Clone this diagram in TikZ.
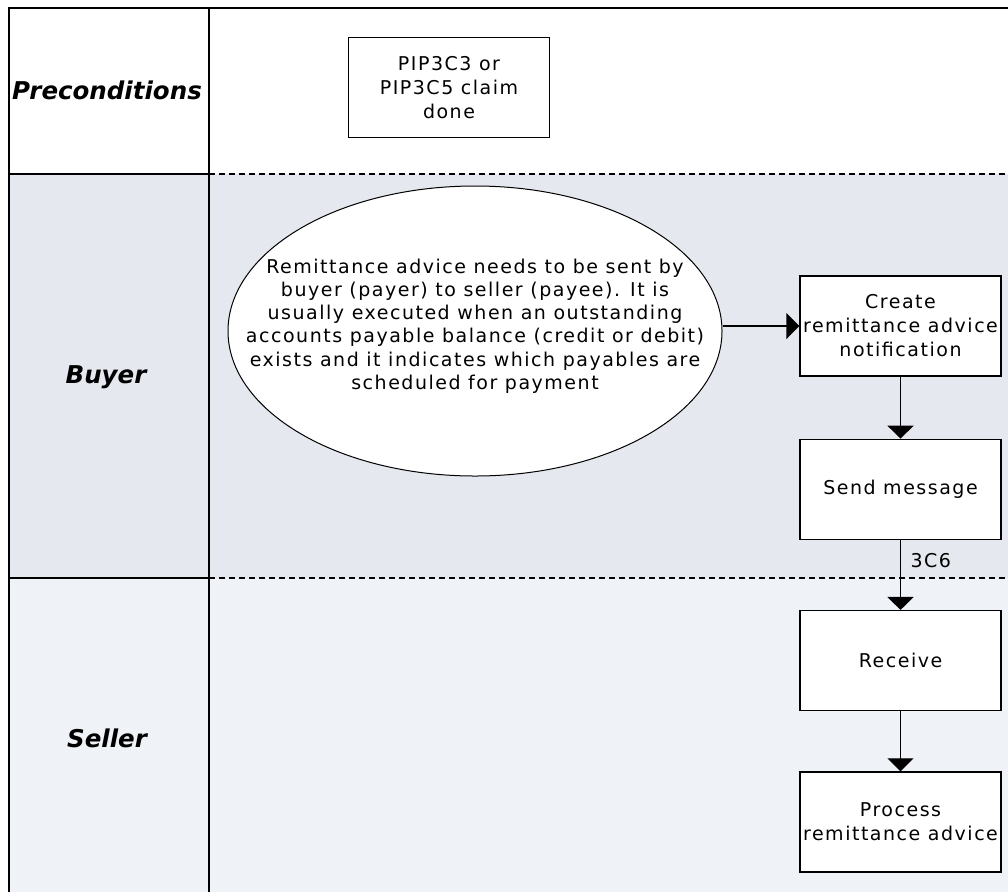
\documentclass[tikz,border=0pt]{standalone}
\usepackage{fontspec}
\setmainfont{DejaVu Sans}
\newfontfamily\boxfont[LetterSpace=8]{DejaVu Sans}
\usetikzlibrary{arrows.meta,positioning,shapes.geometric}
\definecolor{buyerbg}{RGB}{229,232,239}
\definecolor{sellerbg}{RGB}{239,243,247}

\begin{document}
\begin{tikzpicture}[
  x=1pt, y=-1pt,
  act/.style={draw, line width=1.3pt, fill=white, minimum width=201pt, minimum height=100pt, inner sep=1pt, align=center, font=\boxfont\fontsize{19}{24}\selectfont},
  lanelabel/.style={font=\bfseries\itshape\fontsize{24.5}{28}\selectfont},
  frame/.style={line width=1.4pt},
  lanesep/.style={line width=1.3pt, dash pattern=on 6pt off 4pt},
  >={Triangle[width=26pt,length=13pt]}
]
\useasboundingbox (0,0) rectangle (1008,892);
% lanes
\fill[buyerbg] (9,174) rectangle (1008,578);
\fill[sellerbg] (9,578) rectangle (1008,892);
\draw[frame] (1008,8) -- (9,8) -- (9,892);
\draw[frame] (209,8) -- (209,892);
\foreach \y in {174,578} {
  \draw[frame] (9,\y) -- (209,\y);
  \draw[lanesep] (209,\y) -- (1008,\y);
}
\node[lanelabel] (pre) at (107,90) {Preconditions};
\node[lanelabel] (buyer) at (106,377) {Buyer};
\node[lanelabel] (seller) at (107,738) {Seller};

% activities
\node[act] (claim) at (449,87.5) {PIP3C3 or\\PIP3C5 claim\\done};
\node[ellipse, draw, line width=1pt, fill=white, minimum width=494pt, minimum height=290pt,
  label={[yshift=5pt, align=center, font=\boxfont\fontsize{19}{23.3}\selectfont]center:{Remittance advice needs to be sent by\\buyer (payer) to seller (payee). It is\\usually executed when an outstanding\\accounts payable balance (credit or debit)\\exists and it indicates which payables are\\scheduled for payment}}] (ell) at (475,331) {};
\node[act] (create) at (900.5,326) {Create\\remittance advice\\notification};
\node[act, below=62pt of create] (send) {Send message};
\node[act, below=70pt of send] (recv) {Receive};
\node[act, below=60pt of recv] (proc) {Process\\remittance advice};

\draw[->, frame] (create.west -| ell.east) -- (create.west);
\draw[->, frame] (create) -- (send);
\draw[->, frame] (send) -- node[pos=0.3, right=6pt, font=\boxfont\fontsize{19}{22}\selectfont] (msg) {3C6} (recv);
\draw[->, frame] (recv) -- (proc);
\end{tikzpicture}
\end{document}
